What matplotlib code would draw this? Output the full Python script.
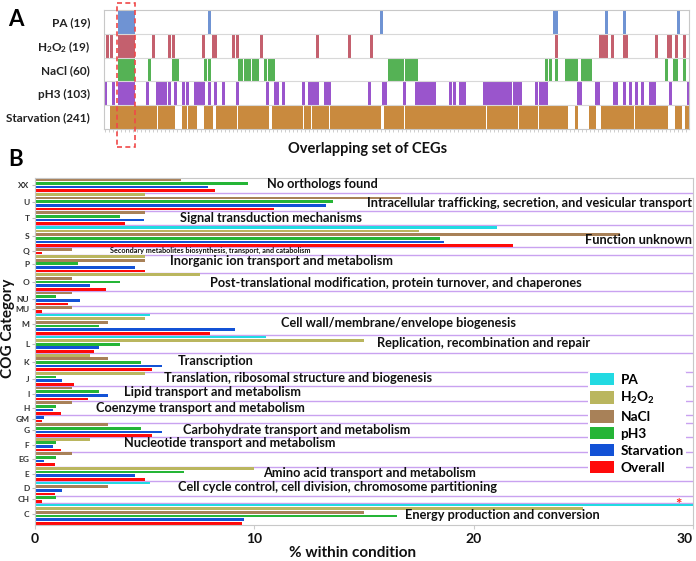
import matplotlib
matplotlib.use("Agg")
import matplotlib.pyplot as plt
import matplotlib.transforms as mtransforms
from matplotlib.patches import Patch, Rectangle

plt.rcParams['font.family'] = ['Lato', 'DejaVu Sans']
plt.rcParams['font.weight'] = 'bold'
plt.rcParams['mathtext.default'] = 'regular'

# ---------------- panel A data: CEG presence (runs of column indices) ----------------
n_cegs = 292
row_labels = ["PA (19)", "H$_2$O$_2$ (19)", "NaCl (60)", "pH3 (103)", "Starvation (241)"]
pa_runs = [(7, 14), (52, 52), (138, 138), (224, 225), (250, 250), (259, 259), (286, 286)]
h2o2_runs = [(1, 1), (3, 3), (7, 14), (24, 24), (32, 32), (34, 34), (49, 49), (54, 55), (64, 64),
             (66, 66), (78, 78), (106, 106), (122, 122), (133, 133), (225, 225), (247, 249),
             (250, 250), (253, 253), (259, 260), (275, 275), (281, 282), (285, 285), (289, 289)]
nacl_runs = [(7, 14), (22, 22), (34, 36), (50, 50), (52, 52), (67, 68), (70, 72), (74, 76), (80, 80),
             (82, 84), (142, 148), (150, 155), (220, 220), (222, 222), (225, 225), (230, 235),
             (238, 242), (280, 280), (284, 285), (289, 289)]
ph3_runs = [(0, 0), (4, 4), (7, 14), (21, 21), (26, 30), (32, 32), (35, 35), (39, 39), (41, 41),
            (45, 49), (52, 52), (55, 55), (59, 59), (66, 66), (81, 81), (85, 86), (89, 89), (99, 99),
            (102, 106), (110, 112), (132, 132), (139, 140), (149, 149), (155, 164), (172, 172),
            (174, 174), (177, 179), (189, 202), (204, 207), (215, 215), (217, 220), (236, 237),
            (245, 246), (254, 255), (259, 259), (262, 262), (265, 265), (268, 268), (272, 274),
            (282, 282), (291, 291)]
starv_runs = [(3, 25), (27, 34), (39, 40), (42, 45), (50, 53), (56, 65), (67, 78), (79, 81), (84, 98),
              (100, 102), (104, 111), (113, 121), (122, 133), (134, 137), (140, 148), (150, 155),
              (156, 189), (191, 194), (195, 205), (207, 215), (217, 230), (235, 235), (242, 244),
              (248, 254), (255, 263), (265, 279), (280, 280), (285, 287), (290, 291)]
row_runs = [pa_runs, h2o2_runs, nacl_runs, ph3_runs, starv_runs]
row_colors = ['#6F93D3', '#C4606E', '#55B255', '#9A55CC', '#C98A3E']
common_block = (7, 14)

# ---------------- panel B data: % within condition per COG category ----------------
categories = ["XX", "U", "T", "S", "Q", "P", "O", "NU", "MU", "M", "L", "K", "J", "I", "H", "GM",
              "G", "F", "EG", "E", "D", "CH", "C"]
series_names = ["PA", "H$_2$O$_2$", "NaCl", "pH3", "Starvation", "Overall"]
pa = [0, 0, 0, 21.05, 0, 0, 0, 0, 0, 5.26, 10.53, 0, 0, 0, 0, 0, 0, 0, 0, 0, 5.26, 0, 57.89]
h2o2 = [0, 5.0, 0, 17.5, 0, 5.0, 7.5, 0, 0, 5.0, 15.0, 2.5, 5.0, 0, 0, 0, 0, 2.5, 0, 10.0, 0, 0, 25.0]
nacl = [6.67, 16.67, 5.0, 26.67, 1.67, 5.0, 1.67, 1.67, 1.67, 3.33, 0, 3.33, 0, 1.67, 1.67, 0,
        3.33, 0, 1.67, 0, 3.33, 0, 15.0]
ph3 = [9.71, 13.59, 3.88, 18.45, 0, 1.94, 3.88, 0.97, 0, 2.91, 3.88, 4.85, 0.97, 2.91, 0.97, 0,
       4.85, 0.97, 0.97, 6.80, 0, 0.97, 16.50]
starv = [7.88, 13.28, 4.98, 18.67, 0, 4.56, 2.49, 2.07, 0, 9.13, 2.90, 5.81, 1.24, 3.32, 0.83, 0.41,
         5.81, 0.83, 0.41, 4.56, 1.24, 0, 9.54]
overall = [8.2, 10.9, 4.1, 21.8, 0.3, 5.0, 3.25, 1.5, 0.3, 7.97, 2.7, 5.35, 1.8, 2.4, 1.2, 0.3,
           5.35, 1.2, 0.9, 5.0, 0.9, 0.3, 9.45]
series = [pa, h2o2, nacl, ph3, starv, overall]
series_colors = ['#22DAE2', '#BAB65F', '#A88158', '#25B536', '#1352D6', '#FF0A0A']

cat_texts = ["No orthologs found",
             "Intracellular trafficking, secretion, and vesicular transport",
             "Signal transduction mechanisms",
             "Function unknown",
             "Secondary metabolites biosynthesis, transport, and catabolism",
             "Inorganic ion transport and metabolism",
             "Post-translational modification, protein turnover, and chaperones",
             "Cell wall/membrane/envelope biogenesis",
             "Replication, recombination and repair",
             "Transcription",
             "Translation, ribosomal structure and biogenesis",
             "Lipid transport and metabolism",
             "Coenzyme transport and metabolism",
             "Carbohydrate transport and metabolism",
             "Nucleotide transport and metabolism",
             "Amino acid transport and metabolism",
             "Cell cycle control, cell division, chromosome partitioning",
             "Energy production and conversion"]
# (x, y-slot, align, size) for the overlaid category descriptions
cat_text_pos = [(10.6, 1.6, 'left', 9.2), (29.95, 6.8, 'right', 9.2), (6.6, 11.0, 'left', 9.2),
                (29.95, 17.0, 'right', 9.2), (3.4, 19.7, 'left', 5.2), (6.15, 22.7, 'left', 9.2),
                (8.0, 28.7, 'left', 9.2), (11.2, 39.7, 'left', 9.2), (15.6, 45.2, 'left', 9.2),
                (6.5, 50.1, 'left', 9.2), (5.9, 54.75, 'left', 9.2), (4.05, 58.6, 'left', 9.2),
                (2.8, 62.95, 'left', 9.2), (6.75, 69.0, 'left', 9.2), (4.05, 72.5, 'left', 9.2),
                (10.4, 80.75, 'left', 9.2), (6.5, 84.6, 'left', 9.2), (16.85, 92.2, 'left', 9.2)]

W, H = 696, 561
fig = plt.figure(figsize=(W / 100, H / 100), dpi=100)

# ================= Panel A =================
axA = fig.add_axes([104 / W, 1 - 129 / H, 585 / W, 119 / H])
for i, (runs, col) in enumerate(zip(row_runs, row_colors)):
    cols = [c for a, b in runs for c in range(a, b + 1)]
    # light fill for each gene column, darker line on top
    axA.bar(cols, 0.98, bottom=i - 0.49, width=1.0, color=col, alpha=0.3, linewidth=0)
    axA.vlines(cols, i - 0.49, i + 0.49, color=col, linewidth=0.75, antialiased=False)
for b in [0.5, 1.5, 2.5, 3.5]:
    axA.axhline(b, color='#d8d8d8', lw=0.8)
axA.set_xlim(-0.5, n_cegs - 0.5)
axA.set_ylim(4.5, -0.5)
axA.set_yticks(range(5))
axA.set_yticklabels(row_labels, fontsize=8.5, color='#222222')
axA.tick_params(axis='y', length=0, pad=10)
axA.set_xticks(range(0, n_cegs, 2))
axA.set_xticklabels([])
axA.tick_params(axis='x', length=2.5, width=0.4, color='#aaaaaa')
for s in axA.spines.values():
    s.set_color('#c8c8c8')
    s.set_linewidth(0.8)
trans = mtransforms.blended_transform_factory(axA.transData, axA.transAxes)
axA.add_patch(Rectangle((common_block[0] - 1.0, -0.15), common_block[1] - common_block[0] + 2.1, 1.21,
                        transform=trans, fill=False, edgecolor='#F04848', lw=1.2,
                        linestyle=(0, (3, 2)), clip_on=False, zorder=5))
fig.text(368 / W, 1 - 149 / H, "Overlapping set of CEGs", ha='center', va='center',
         fontsize=10.5, color='#111111')

# ================= Panel B =================
axB = fig.add_axes([35 / W, 1 - 525 / H, 658 / W, 347 / H])
slot = 0
centers, bounds = [], []
star_y = None
for ci, cat in enumerate(categories):
    start = slot
    for si, vals in enumerate(series):
        v = vals[ci]
        if v > 0:
            axB.barh(slot + 0.5, v, height=0.74, color=series_colors[si], linewidth=0, zorder=2)
            if v > 30:
                star_y = slot + 0.45
            slot += 1
    centers.append((start + slot) / 2)
    bounds.append(slot)
total = slot
for b in bounds[:-1]:
    axB.axhline(b, color='#C9A2F0', lw=1.0, zorder=1)
axB.set_xlim(0, 30)
axB.set_ylim(total, 0)
axB.set_yticks(centers)
axB.set_yticklabels(categories, fontsize=6, color='#333333')
axB.tick_params(axis='y', length=2, color='#bbbbbb', pad=2)
axB.set_xticks([0, 10, 20, 30])
xt = axB.set_xticklabels(["0", "10", "20", "30"], fontsize=10, color='#111111')
xt[-1].set_ha('right')
axB.tick_params(axis='x', length=3, color='#cccccc', pad=3)
for s in axB.spines.values():
    s.set_color('#c8c8c8')
    s.set_linewidth(0.8)

for txt, (x, y, ha, fs) in zip(cat_texts, cat_text_pos):
    axB.text(x, y, txt, ha=ha, va='center', fontsize=fs, color='#111111', zorder=4)

if star_y is not None:
    axB.text(29.35, star_y, "*", color='#FF2020', fontsize=11, ha='center', va='center', zorder=6)

handles = [Patch(facecolor=c, edgecolor='none') for c in series_colors]
leg = axB.legend(handles, series_names, loc='upper left', bbox_to_anchor=(0.84, 0.445),
                 frameon=True, facecolor='white', edgecolor='none', framealpha=1,
                 fontsize=9.8, handlelength=1.7, handleheight=1.0, labelspacing=0.3,
                 borderpad=0.2, handletextpad=0.5, borderaxespad=0)
leg.set_zorder(7)

axB.text(0.482, -0.081, "% within condition", transform=axB.transAxes, ha='center', va='center',
         fontsize=11, color='#111111')
fig.text(8.5 / W, 1 - 328 / H, "COG Category", rotation=90, ha='center', va='center',
         fontsize=11, color='#111111')

fig.text(8 / W, 1 - 19 / H, "A", fontsize=16, va='center', ha='left')
fig.text(8 / W, 1 - 160 / H, "B", fontsize=16, va='center', ha='left')

fig.savefig("out.png", dpi=100)
